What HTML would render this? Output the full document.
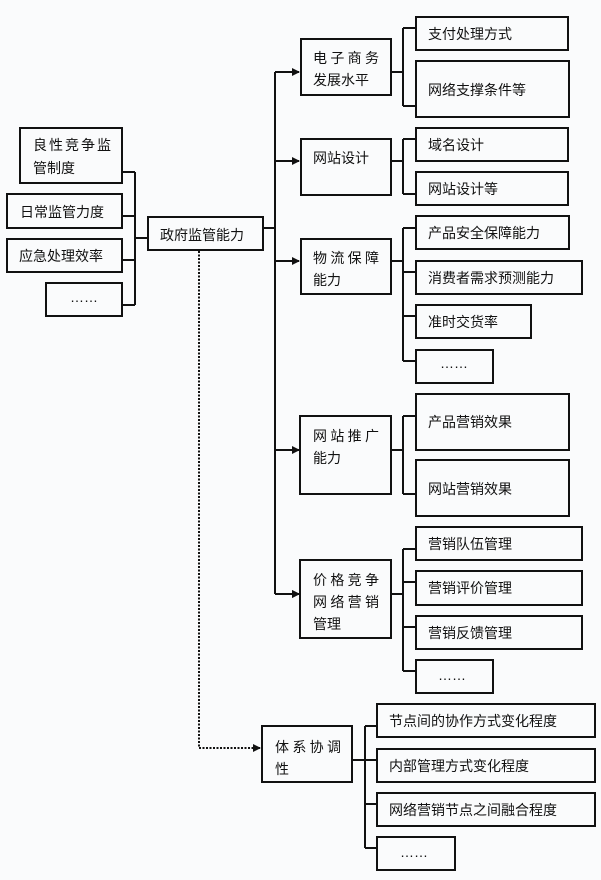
<!DOCTYPE html>
<html><head><meta charset="utf-8">
<style>
html,body{margin:0;padding:0;background:#fafbfc;}
svg{display:block;}
text{font-family:"Liberation Sans","Noto Sans CJK SC",sans-serif;font-size:14px;fill:#111;}
</style></head>
<body>
<svg width="601" height="880" viewBox="0 0 601 880" xmlns="http://www.w3.org/2000/svg">
<defs>
<marker id="ar" markerWidth="8" markerHeight="8" refX="7" refY="4" orient="auto" markerUnits="userSpaceOnUse">
<path d="M0,0 L8,4 L0,8 z" fill="#111"/>
</marker>
</defs>
<g fill="none" stroke="#111" stroke-width="2">
<!-- left boxes -->
<rect x="20" y="128" width="102" height="55"/>
<rect x="7" y="194" width="115" height="34"/>
<rect x="7" y="239" width="115" height="33"/>
<rect x="46" y="283" width="76" height="33"/>
<path d="M122,172 H135 M122,216 H135 M122,260 H135 M122,305 H135 M135,172 V305 M135,238 H148"/>
<!-- central -->
<rect x="148" y="217" width="115" height="33"/>
<path d="M263,228 H275 M275,72 V594"/>
<path d="M275,72 H299 M275,161 H299 M275,261 H299 M275,450 H299 M275,594 H299" marker-end="url(#ar)"/>
<path d="M275,72 H299" marker-end="url(#ar)"/>
<path d="M275,161 H299" marker-end="url(#ar)"/>
<path d="M275,261 H299" marker-end="url(#ar)"/>
<path d="M275,450 H299" marker-end="url(#ar)"/>
<path d="M275,594 H299" marker-end="url(#ar)"/>
<!-- level2 -->
<rect x="301" y="39" width="90" height="56"/>
<rect x="301" y="139" width="90" height="56"/>
<rect x="301" y="239" width="90" height="55"/>
<rect x="300" y="416" width="91" height="78"/>
<rect x="300" y="560" width="91" height="78"/>
<!-- brackets -->
<path d="M391,72 H403 M403,28 V106 M403,28 H416 M403,106 H416"/>
<path d="M391,161 H403 M403,139 V194 M403,139 H416 M403,194 H416"/>
<path d="M391,261 H403 M403,228 V361 M403,228 H416 M403,272 H416 M403,316 H416 M403,361 H416"/>
<path d="M391,450 H403 M403,416 V494 M403,416 H416 M403,494 H416"/>
<path d="M391,594 H403 M403,549 V671 M403,549 H416 M403,582 H416 M403,627 H416 M403,671 H416"/>
<!-- children -->
<rect x="416" y="17" width="152" height="33"/>
<rect x="416" y="61" width="153" height="56"/>
<rect x="416" y="128" width="152" height="33"/>
<rect x="416" y="172" width="152" height="33"/>
<rect x="416" y="216" width="153" height="33"/>
<rect x="416" y="261" width="166" height="33"/>
<rect x="416" y="305" width="115" height="33"/>
<rect x="416" y="350" width="77" height="33"/>
<rect x="416" y="394" width="153" height="56"/>
<rect x="416" y="460" width="153" height="56"/>
<rect x="416" y="527" width="166" height="33"/>
<rect x="416" y="571" width="166" height="34"/>
<rect x="416" y="616" width="166" height="33"/>
<rect x="416" y="660" width="77" height="33"/>
<!-- system -->
<rect x="262" y="726" width="90" height="56"/>
<path d="M352,760 H365 M365,726 V848 M365,726 H377 M365,760 H377 M365,804 H377 M365,848 H377"/>
<rect x="377" y="704" width="218" height="33"/>
<rect x="377" y="749" width="218" height="33"/>
<rect x="377" y="793" width="218" height="33"/>
<rect x="377" y="837" width="78" height="33"/>
</g>
<path d="M199,251 V748 H260" fill="none" stroke="#111" stroke-width="2" stroke-dasharray="2,1.5" marker-end="url(#ar)"/>
<!-- text -->
<text x="33" y="150" textLength="78" lengthAdjust="spacing">良性竞争监</text>
<text x="33" y="173">管制度</text>
<text x="20" y="217">日常监管力度</text>
<text x="19" y="261">应急处理效率</text>
<text x="70" y="302">……</text>
<text x="160" y="240">政府监管能力</text>
<text x="313" y="63" textLength="66" lengthAdjust="spacing">电子商务</text>
<text x="313" y="85">发展水平</text>
<text x="313" y="163">网站设计</text>
<text x="313" y="263" textLength="66" lengthAdjust="spacing">物流保障</text>
<text x="313" y="285">能力</text>
<text x="313" y="441" textLength="66" lengthAdjust="spacing">网站推广</text>
<text x="313" y="463">能力</text>
<text x="313" y="585" textLength="66" lengthAdjust="spacing">价格竞争</text>
<text x="313" y="607" textLength="66" lengthAdjust="spacing">网络营销</text>
<text x="313" y="629">管理</text>
<text x="275" y="752" textLength="66" lengthAdjust="spacing">体系协调</text>
<text x="275" y="774">性</text>
<text x="428" y="39">支付处理方式</text>
<text x="428" y="95">网络支撑条件等</text>
<text x="428" y="150">域名设计</text>
<text x="428" y="194">网站设计等</text>
<text x="428" y="238">产品安全保障能力</text>
<text x="428" y="283">消费者需求预测能力</text>
<text x="428" y="327">准时交货率</text>
<text x="440" y="368">……</text>
<text x="428" y="427">产品营销效果</text>
<text x="428" y="494">网站营销效果</text>
<text x="428" y="549">营销队伍管理</text>
<text x="428" y="593">营销评价管理</text>
<text x="428" y="638">营销反馈管理</text>
<text x="438" y="680">……</text>
<text x="389" y="726">节点间的协作方式变化程度</text>
<text x="389" y="771">内部管理方式变化程度</text>
<text x="389" y="815">网络营销节点之间融合程度</text>
<text x="400" y="857">……</text>
</svg>
</body></html>
